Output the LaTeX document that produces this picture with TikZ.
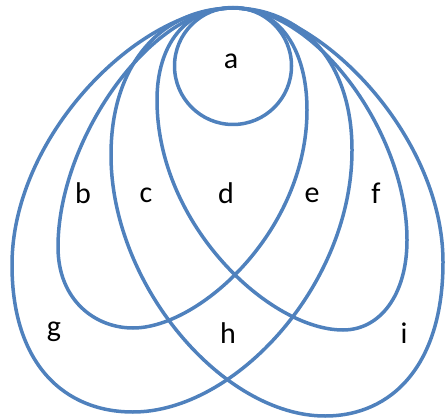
\documentclass[tikz,border=0pt]{standalone}
\usepackage{fontspec}
\setmainfont{Carlito}
\definecolor{loopblue}{RGB}{79,129,189}
\begin{document}
\begin{tikzpicture}[x=1pt,y=-1pt,
  loopline/.style={draw=loopblue,line width=3.5pt},
  lbl/.style={font=\fontsize{30}{36}\selectfont,text=black,inner sep=0pt}]
\useasboundingbox (0,0) rectangle (446,419);
% loop g (big, leaning left)
\draw[loopline] (233,8) .. controls (140,8) and (12,135) .. (12,265)
  .. controls (12,365) and (65,412) .. (133,412)
  .. controls (235,412) and (352,285) .. (352,150)
  .. controls (352,60) and (300,8) .. (233,8) -- cycle;
% loop i (big, leaning right)
\draw[loopline] (233,8) .. controls (318,8) and (443,135) .. (443,262)
  .. controls (443,365) and (392,416) .. (325,416)
  .. controls (223,416) and (111,285) .. (111,155)
  .. controls (111,60) and (165,8) .. (233,8) -- cycle;
% loop b (small, leaning left)
\draw[loopline] (233,8) .. controls (150,8) and (58,140) .. (58,247)
  .. controls (58,300) and (95,328) .. (133,328)
  .. controls (200,328) and (307,230) .. (307,110)
  .. controls (307,50) and (280,8) .. (233,8) -- cycle;
% loop f (small, leaning right)
\draw[loopline] (233,8) .. controls (316,8) and (407,133) .. (407,240)
  .. controls (407,295) and (380,330) .. (343,330)
  .. controls (270,330) and (157,225) .. (157,100)
  .. controls (157,45) and (185,8) .. (233,8) -- cycle;
% circle a
\draw[loopline] (233,66) circle[radius=58.5];
% labels
\node[lbl] (la) at (231,61) {a};
\node[lbl] (lb) at (83,193) {b};
\node[lbl] (lc) at (146,195) {c};
\node[lbl] (ld) at (226,193) {d};
\node[lbl] (le) at (312,195) {e};
\node[lbl] (lf) at (376,193) {f};
\node[lbl] (lg) at (54,332) {g};
\node[lbl] (lh) at (228,333) {h};
\node[lbl] (li) at (404,333) {i};
\end{tikzpicture}
\end{document}
